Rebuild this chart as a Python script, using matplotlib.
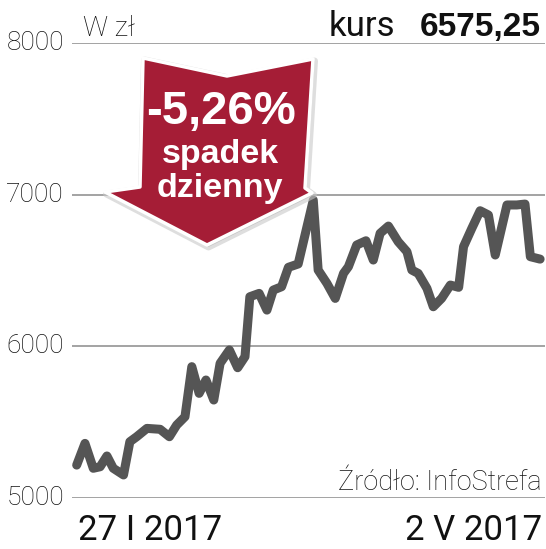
import numpy as np
import matplotlib
matplotlib.use('Agg')
import matplotlib.pyplot as plt
from matplotlib.patches import Polygon
from matplotlib.transforms import Affine2D

plt.rcParams['font.family'] = ['Roboto', 'DejaVu Sans']

# dni od 27 I 2017
dni = [0, 1.7, 3.4, 4.8, 6.2, 7.5, 9.6, 10.9, 12.3, 14.4, 17.1, 19.0, 20.5, 22.2,
       23.6, 25.1, 26.5, 28.1, 29.4, 31.3, 33.0, 34.5, 35.5, 37.4, 39.0, 40.3,
       42.0, 43.4, 45.4, 48.5, 49.5, 51.3, 53.0, 54.7, 55.7, 57.4, 59.3, 60.8,
       62.2, 63.9, 65.9, 67.7, 68.7, 70.0, 71.8, 73.1, 74.8, 76.6, 78.3, 79.3,
       81.0, 82.7, 84.4, 85.8, 88.2, 90.2, 91.9, 93.0, 95.0]
kurs = [5217, 5360, 5196, 5206, 5277, 5196, 5152, 5371, 5404, 5459, 5453, 5404,
        5481, 5536, 5866, 5690, 5778, 5646, 5888, 5976, 5859, 5932, 6327, 6349,
        6239, 6371, 6393, 6521, 6543, 6964, 6503, 6415, 6316, 6481, 6525, 6668,
        6696, 6569, 6745, 6793, 6690, 6624, 6503, 6481, 6382, 6261, 6316, 6404,
        6389, 6657, 6778, 6894, 6866, 6602, 6932, 6932, 6938, 6591, 6575]
poziomy = [5000, 6000, 7000, 8000]
data_od = '27 I 2017'
data_do = '2 V 2017'
ostatni_kurs = '6575,25'
zmiana = '-5,26%'

W, H = 546, 549
fig = plt.figure(figsize=(W / 100, H / 100), dpi=100)
ax = fig.add_axes([72 / W, (H - 498) / H, 473 / W, 455 / H])

for p in poziomy:
    ax.axhline(p, color='#a3a3a3', lw=1.4, zorder=1)
ax.plot(dni, kurs, color='#555555', lw=6.5, solid_joinstyle='round',
        solid_capstyle='round', zorder=4)

ax.set_xlim(-0.96, 96.0)
ax.set_ylim(5000, 8000)
ax.axis('off')

# etykiety osi Y
for p in poziomy:
    ax.text(-0.017, p, str(p), transform=ax.get_yaxis_transform(), ha='right',
            va='center', fontsize=19, fontweight='light', color='#111111')

# piksele figury (y w dol)
px = Affine2D().scale(1 / W, -1 / H).translate(0, 1) + fig.transFigure

fig.text(83 / W, 1 - 36 / H, 'W zł', fontsize=20, fontweight='light',
         color='#111111', va='baseline')
fig.text(395 / W, 1 - 36 / H, 'kurs', fontsize=25, color='#111111',
         ha='right', va='baseline')
fig.text(541 / W, 1 - 36 / H, ostatni_kurs, fontsize=24, fontweight='bold',
         color='#111111', ha='right', va='baseline', family='Liberation Sans')

fig.text(78 / W, 1 - 540 / H, data_od, fontsize=25, color='#111111',
         va='baseline')
fig.text(542 / W, 1 - 540 / H, data_do, fontsize=25, color='#111111',
         ha='right', va='baseline')
fig.text(542 / W, 1 - 490 / H, 'Źródło: InfoStrefa', fontsize=19.5,
         fontweight='light', color='#111111', ha='right', va='baseline')

# strzalka
strzalka = [(143, 58), (227, 76), (313, 59), (305, 188), (312, 193),
            (207, 245), (105, 192), (140, 187)]
cien = [(x + 1.5, y + 2) for x, y in strzalka]
fig.patches.append(Polygon(cien, closed=True, facecolor='#999999',
                           edgecolor='#c8c8c8', lw=5, alpha=0.6,
                           joinstyle='round', transform=px, zorder=2))
fig.patches.append(Polygon(strzalka, closed=True, facecolor='#a51d36',
                           edgecolor='white', lw=2.5, joinstyle='round',
                           transform=px, zorder=3))
fig.text(221, 112, zmiana, transform=px, fontsize=34, fontweight='bold',
         color='white', ha='center', va='center', family='Liberation Sans',
         zorder=5)
fig.text(220, 154, 'spadek', transform=px, fontsize=24.5, fontweight='bold',
         color='white', ha='center', va='center', family='Liberation Sans',
         zorder=5)
fig.text(220, 188, 'dzienny', transform=px, fontsize=24.5, fontweight='bold',
         color='white', ha='center', va='center', family='Liberation Sans',
         zorder=5)

fig.savefig('out.png', dpi=100, facecolor='white')
